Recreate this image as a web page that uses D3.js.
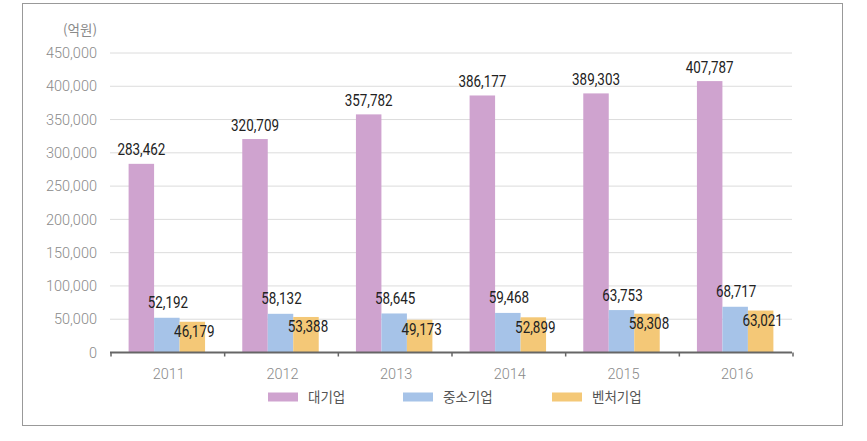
<!DOCTYPE html>
<html lang="ko">
<head>
<meta charset="UTF-8">
<title>기업 규모별</title>
<script src="https://d3js.org/d3.v7.min.js"></script>
<style>
  body { margin: 0; background: #fff; }
  .num { font-family: Roboto, "Liberation Sans", sans-serif; }
</style>
</head>
<body>
<div id="chart"></div>
<script>
const years = ["2011", "2012", "2013", "2014", "2015", "2016"];
const seriesNames = ["대기업", "중소기업", "벤처기업"];
const large = [283462, 320709, 357782, 386177, 389303, 407787];
const small = [52192, 58132, 58645, 59468, 63753, 68717];
const venture = [46179, 53388, 49173, 52899, 58308, 63021];
const yTicks = [0, 50000, 100000, 150000, 200000, 250000, 300000, 350000, 400000, 450000];
const colors = ["#cfa3cf", "#a6c3e8", "#f4c877"];

const w = 867, h = 441;
const svg = d3.select("#chart").append("svg")
  .attr("width", w).attr("height", h);

// frame
svg.append("rect")
  .attr("x", 22.5).attr("y", 3.5)
  .attr("width", 820).attr("height", 422)
  .attr("fill", "none").attr("stroke", "#999");

const x0 = d3.scaleBand().domain(years).range([110, 792]).paddingInner(0);
const x1 = d3.scaleBand().domain(seriesNames).range([0, x0.bandwidth()]).paddingOuter(0.73).paddingInner(0);
const y = d3.scaleLinear().domain([0, 450000]).range([352.5, 53]);

// grid
svg.append("g").selectAll("line")
  .data(yTicks.slice(1))
  .enter().append("line")
  .attr("x1", 110).attr("x2", 792)
  .attr("y1", d => y(d)).attr("y2", d => y(d))
  .attr("stroke", "#dcdcdc").attr("stroke-width", 1);

// y labels
svg.append("g").selectAll("text")
  .data(yTicks)
  .enter().append("text")
  .attr("x", 97).attr("y", d => y(d))
  .attr("dy", "0.36em")
  .attr("text-anchor", "end")
  .attr("fill", "#8a8a8a")
  .style("font-family", "Roboto, sans-serif")
  .style("font-size", "14.5px")
  .style("font-weight", "300")
  .text(d => d3.format(",")(d));

svg.append("text")
  .attr("x", 97).attr("y", 30).attr("dy", "0.36em")
  .attr("text-anchor", "end")
  .attr("fill", "#8a8a8a")
  .style("font-family", "'Noto Sans CJK KR', sans-serif")
  .style("font-size", "13.5px")
  .text("(억원)");

const series = [large, small, venture];

const groups = svg.append("g").selectAll("g")
  .data(years)
  .enter().append("g")
  .attr("transform", d => "translate(" + x0(d) + ",0)");

groups.selectAll("rect")
  .data((d, i) => seriesNames.map((s, k) => ({ s: s, k: k, v: series[k][i] })))
  .enter().append("rect")
  .attr("x", d => x1(d.s))
  .attr("y", d => y(d.v))
  .attr("width", x1.bandwidth())
  .attr("height", d => y(0) - y(d.v))
  .attr("fill", d => colors[d.k]);

// value labels (condensed look via horizontal squeeze)
const dyRule = [-8.5, -9.5, 15.5];
const dxRule = [0, 1, 2];
groups.selectAll("text")
  .data((d, i) => seriesNames.map((s, k) => ({ s: s, k: k, v: series[k][i] })))
  .enter().append("text")
  .attr("class", "num")
  .attr("transform", d => "translate(" + (x1(d.s) + x1.bandwidth() / 2 + dxRule[d.k]) + "," + (y(d.v) + dyRule[d.k]) + ") scale(0.84,1)")
  .attr("text-anchor", "middle")
  .attr("fill", "#222")
  .style("font-size", "16px")
  .text(d => d3.format(",")(d.v));

// x axis
const xAxis = svg.append("g").attr("transform", "translate(0," + y(0) + ")");
xAxis.append("line")
  .attr("x1", 110).attr("x2", 792)
  .attr("stroke", "#666").attr("stroke-width", 2);
xAxis.selectAll("line.tick")
  .data(years.concat(["end"]))
  .enter().append("line")
  .attr("class", "tick")
  .attr("x1", (d, i) => 110 + i * x0.step() + 1)
  .attr("x2", (d, i) => 110 + i * x0.step() + 1)
  .attr("y1", 0).attr("y2", 4)
  .attr("stroke", "#666").attr("stroke-width", 1.5);
xAxis.selectAll("text")
  .data(years)
  .enter().append("text")
  .attr("x", d => x0(d) + x0.bandwidth() / 2 + 2)
  .attr("y", 21)
  .attr("dy", "0.36em")
  .attr("text-anchor", "middle")
  .attr("fill", "#8a8a8a")
  .style("font-family", "Roboto, sans-serif")
  .style("font-size", "14.5px")
  .style("font-weight", "300")
  .text(d => d);

// legend
const legendX = [268, 403, 552];
const legend = svg.append("g").selectAll("g")
  .data(seriesNames)
  .enter().append("g")
  .attr("transform", (d, i) => "translate(" + legendX[i] + ",397)");
legend.append("rect")
  .attr("x", 0).attr("y", -4.5)
  .attr("width", 30).attr("height", 9)
  .attr("fill", (d, i) => colors[i]);
legend.append("text")
  .attr("x", 40).attr("y", 0).attr("dy", "0.36em")
  .attr("fill", "#555")
  .style("font-family", "'Noto Sans CJK KR', sans-serif")
  .style("font-size", "13.5px")
  .text(d => d);
</script>
</body>
</html>
